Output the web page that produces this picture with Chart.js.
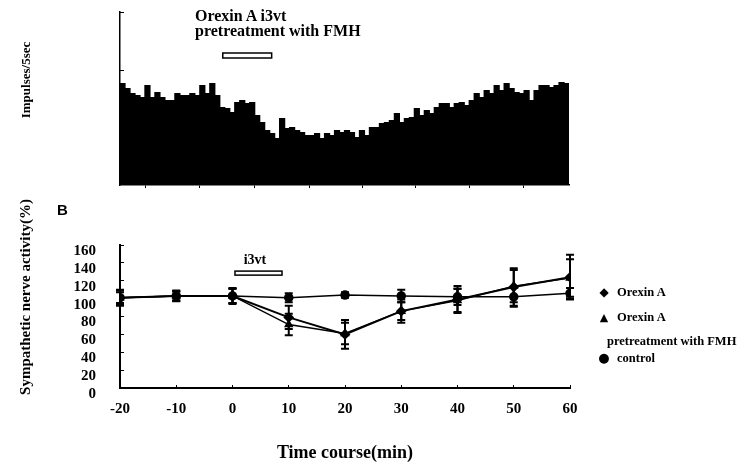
<!DOCTYPE html>
<html>
<head>
<meta charset="utf-8">
<script src="https://cdn.jsdelivr.net/npm/chart.js@4"></script>
<style>
    body { margin: 0; background: #fff; }
    #wrap { position: relative; width: 754px; height: 469px; overflow: hidden;
            font-family: "Liberation Serif", "Times New Roman", serif; font-weight: bold; color: #000; }
    #topChart { position: absolute; left: 0; top: 0; }
    #bottomChart { position: absolute; left: 0; top: 195px; }
    .txt { position: absolute; white-space: nowrap; line-height: 1; }
    .rot { transform: translate(-50%, -50%) rotate(-90deg); }
    .mark { position: absolute; transform: translate(-50%, -50%); font-family: "DejaVu Sans", sans-serif; line-height: 1; }
</style>
</head>
<body>
<div id="wrap">
    <canvas id="topChart" width="754" height="195"></canvas>
    <canvas id="bottomChart" width="754" height="274"></canvas>

    <div class="txt" style="left:195px; top:8px; font-size:16px;">Orexin A i3vt</div>
    <div class="txt" style="left:195px; top:23px; font-size:16px;">pretreatment with FMH</div>
    <div class="txt rot" style="left:25px; top:80px; font-size:13px;">Impulses/5sec</div>

    <div class="txt" style="left:57px; top:202px; font-size:15px; font-family:'Liberation Sans', Arial, sans-serif;">B</div>
    <div class="txt rot" style="left:25px; top:297px; font-size:15px;">Sympathetic nerve activity(%)</div>

    <!-- legend -->
    <div class="mark" style="left:604px; top:292px; font-size:12px;">◆</div>
    <div class="txt" style="left:617px; top:286px; font-size:12.5px;">Orexin A</div>
    <div class="mark" style="left:604px; top:317px; font-size:11px;">▲</div>
    <div class="txt" style="left:617px; top:311px; font-size:12.5px;">Orexin A</div>
    <div class="txt" style="left:607px; top:335px; font-size:12.5px;">pretreatment with FMH</div>
    <div class="mark" style="left:604px; top:357px; font-size:13px;">●</div>
    <div class="txt" style="left:617px; top:352px; font-size:12.5px;">control</div>
</div>

<script>
// --- panel A: impulses per 5 s bin ---
const binHeights = [
    102, 97, 92, 90, 88, 100, 88, 93, 88, 85, 85, 92, 90, 90, 92,
    90, 100, 92, 102, 90, 78, 77, 73, 83, 85, 82, 83, 70, 63, 55,
    52, 47, 67, 57, 58, 55, 53, 50, 50, 52, 47, 52, 50, 55, 53,
    55, 53, 48, 55, 50, 58, 58, 62, 63, 65, 72, 63, 67, 68, 77,
    70, 75, 72, 78, 82, 82, 78, 82, 83, 80, 85, 92, 88, 95, 92,
    100, 95, 102, 97, 93, 92, 95, 85, 95, 100, 100, 98, 100, 103, 102
];
const topXTicks = [0, 10.4, 21.6, 32.4, 43.4, 53.8, 64.6, 75.4, 86.2];
const topYTicks = [58, 115, 173];

// --- panel B: sympathetic nerve activity (%) ---
const times = [-20, -10, 0, 10, 20, 30, 40, 50, 60];
const orexinA = [101, 103, 103, 79, 60, 86, 99, 113, 124];
const orexinAErr = [8, 6, 9, 13, 16, 13, 15, 21, 25];
const orexinFMH = [101, 103, 103, 71, 61, 86, 98, 114, 123];
const orexinFMHErr = [9, 5, 8, 12, 12, 10, 13, 18, 21];
const control = [101, 103, 103, 101, 104, 103, 102, 102, 106];
const controlErr = [6, 5, 8, 5, 3, 7, 9, 11, 6];
const xTicks = [-20, -10, 0, 10, 20, 30, 40, 50, 60];
const yTicks = [0, 20, 40, 60, 80, 100, 120, 140, 160];

const serif = '"Liberation Serif", "Times New Roman", serif';
const setTicks = list => scale => { scale.ticks = list.map(v => ({ value: v })); };

// hollow bar under the injection label, panel A
const topBarPlugin = {
    id: 'topBar',
    afterDraw(chart) {
        const { ctx, scales: { x, y } } = chart;
        const x1 = x.getPixelForValue(20.6), x2 = x.getPixelForValue(30.4);
        const y1 = y.getPixelForValue(132), y2 = y.getPixelForValue(127);
        ctx.save();
        ctx.strokeStyle = '#000';
        ctx.lineWidth = 1.5;
        ctx.strokeRect(x1, y1, x2 - x1, y2 - y1);
        ctx.restore();
    }
};

const topChart = new Chart(document.getElementById('topChart'), {
    type: 'bar',
    data: {
        datasets: [{
            data: binHeights.map((h, i) => ({ x: i + 0.5, y: h })),
            backgroundColor: '#000',
            borderWidth: 0,
            barPercentage: 1.25,
            categoryPercentage: 1
        }]
    },
    options: {
        responsive: false,
        animation: false,
        events: [],
        layout: { padding: { left: 0, right: 185, top: 12, bottom: 0 } },
        plugins: { legend: { display: false }, tooltip: { enabled: false } },
        scales: {
            x: {
                type: 'linear', min: 0, max: 90, offset: false,
                afterBuildTicks: setTicks(topXTicks),
                afterFit: s => { s.height = 10; },
                ticks: { display: false },
                grid: { drawOnChartArea: false, tickLength: 3, color: '#000', lineWidth: 1 },
                border: { color: '#000', width: 1.5 }
            },
            y: {
                min: 0, max: 173,
                afterBuildTicks: setTicks(topYTicks),
                afterFit: s => { s.width = 120; },
                ticks: { display: false },
                grid: { drawOnChartArea: false, tickLength: -4, color: '#000', lineWidth: 1 },
                border: { color: '#000', width: 1.5 }
            }
        }
    },
    plugins: [topBarPlugin]
});

// error bars + i3vt bar for panel B
const errorBarPlugin = {
    id: 'errorBars',
    afterDatasetsDraw(chart) {
        const { ctx, scales: { y } } = chart;
        ctx.save();
        ctx.strokeStyle = '#000';
        ctx.lineWidth = 2;
        chart.data.datasets.forEach((ds, di) => {
            const meta = chart.getDatasetMeta(di);
            ds.errors.forEach((err, i) => {
                const v = ds.data[i].y;
                const px = meta.data[i].x;
                const yTop = y.getPixelForValue(v + err);
                const yBot = y.getPixelForValue(v - err);
                ctx.beginPath();
                ctx.moveTo(px, yTop); ctx.lineTo(px, yBot);
                ctx.moveTo(px - 4, yTop); ctx.lineTo(px + 4, yTop);
                ctx.moveTo(px - 4, yBot); ctx.lineTo(px + 4, yBot);
                ctx.stroke();
            });
        });
        ctx.restore();
    },
    afterDraw(chart) {
        const { ctx, scales: { x, y } } = chart;
        const x1 = x.getPixelForValue(0.44), x2 = x.getPixelForValue(8.8);
        const y1 = y.getPixelForValue(130.8), y2 = y.getPixelForValue(126.3);
        ctx.save();
        ctx.strokeStyle = '#000';
        ctx.lineWidth = 1.5;
        ctx.strokeRect(x1, y1, x2 - x1, y2 - y1);
        ctx.fillStyle = '#000';
        ctx.font = 'bold 14px ' + serif;
        ctx.textAlign = 'center';
        ctx.textBaseline = 'middle';
        ctx.fillText('i3vt', x.getPixelForValue(4.0), y.getPixelForValue(143));
        ctx.restore();
    }
};

function series(values, errors, style, width) {
    return {
        data: times.map((t, i) => ({ x: t, y: values[i] })),
        errors: errors,
        borderColor: '#000',
        backgroundColor: '#000',
        borderWidth: width,
        pointStyle: style,
        pointRadius: 4,
        tension: 0
    };
}

const tickFont = { family: serif, size: 15, weight: 'bold' };

const bottomChart = new Chart(document.getElementById('bottomChart'), {
    type: 'line',
    data: {
        datasets: [
            series(control, controlErr, 'circle', 1.5),
            series(orexinFMH, orexinFMHErr, 'triangle', 1.5),
            series(orexinA, orexinAErr, 'rectRot', 2)
        ]
    },
    options: {
        responsive: false,
        animation: false,
        events: [],
        layout: { padding: { left: 0, right: 184, top: 50, bottom: 0 } },
        plugins: { legend: { display: false }, tooltip: { enabled: false } },
        scales: {
            x: {
                type: 'linear', min: -20, max: 60,
                afterBuildTicks: setTicks(xTicks),
                afterFit: s => { s.height = 81; },
                ticks: { font: tickFont, color: '#000', padding: 15, maxRotation: 0, autoSkip: false },
                grid: { drawOnChartArea: false, tickLength: -3, color: '#000', lineWidth: 1 },
                border: { color: '#000', width: 2 },
                title: {
                    display: true, text: 'Time course(min)', color: '#000',
                    font: { family: serif, size: 18, weight: 'bold' },
                    padding: { top: 0, bottom: 5 }
                }
            },
            y: {
                min: 0, max: 160,
                afterBuildTicks: setTicks(yTicks),
                afterFit: s => { s.width = 120; },
                ticks: { font: tickFont, color: '#000', padding: 28, labelOffset: 6, autoSkip: false },
                grid: { drawOnChartArea: false, tickLength: -4, color: '#000', lineWidth: 1 },
                border: { color: '#000', width: 2 }
            }
        }
    },
    plugins: [errorBarPlugin]
});
</script>
</body>
</html>
